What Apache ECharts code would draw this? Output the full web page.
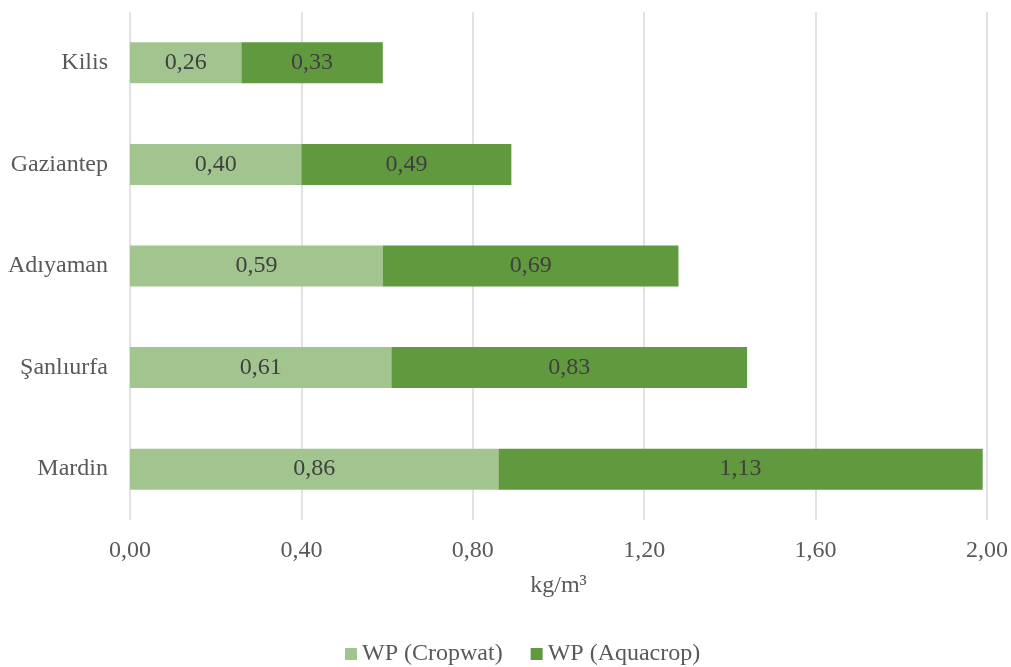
<!DOCTYPE html>
<html><head><meta charset="utf-8">
<script src="https://cdn.jsdelivr.net/npm/echarts@6/dist/echarts.min.js"></script>
<style>html,body{margin:0;padding:0;background:#fff}#c{width:1011px;height:667px}</style>
</head><body><div id="c"></div>
<script>
const categories = ['Mardin', 'Şanlıurfa', 'Adıyaman', 'Gaziantep', 'Kilis'];
const cropwat = [0.86, 0.61, 0.59, 0.40, 0.26];
const aquacrop = [1.13, 0.83, 0.69, 0.49, 0.33];
const seriesNames = ['WP (Cropwat)', 'WP (Aquacrop)'];
const xTicks = { min: 0, max: 2, interval: 0.4 };
const axisName = 'kg/m³';

const font = '"Liberation Serif", "Times New Roman", serif';
const fs = 24;
const fmt = v => v.toFixed(2).replace('.', ',');
const chart = echarts.init(document.getElementById('c'), null, { renderer: 'canvas' });
const lbl = {
  show: true, position: 'inside', color: '#404040', fontFamily: font, fontSize: fs,
  formatter: p => fmt(p.value)
};
chart.setOption({
  animation: false,
  textStyle: { fontFamily: font },
  grid: { left: 130, right: 23, top: 12, bottom: 147 },
  legend: {
    top: 637, left: 340, itemWidth: 12, itemHeight: 12, itemGap: 28,
    icon: 'rect',
    textStyle: { fontFamily: font, fontSize: fs, color: '#595959' },
    data: seriesNames
  },
  xAxis: {
    type: 'value', min: xTicks.min, max: xTicks.max, interval: xTicks.interval,
    name: axisName, nameLocation: 'middle', nameGap: 54,
    nameTextStyle: { fontFamily: font, fontSize: fs, color: '#595959' },
    axisLine: { show: false }, axisTick: { show: false },
    axisLabel: { formatter: fmt, fontFamily: font, fontSize: fs, color: '#595959', margin: 19 },
    splitLine: { lineStyle: { color: '#d9d9d9', width: 1.5 } }
  },
  yAxis: {
    type: 'category', data: categories,
    axisLine: { show: false }, axisTick: { show: false },
    axisLabel: { fontFamily: font, fontSize: fs, color: '#595959', margin: 22 }
  },
  series: [
    { name: seriesNames[0], type: 'bar', stack: 's', data: cropwat, barWidth: 41,
      itemStyle: { color: '#a2c590' }, label: lbl },
    { name: seriesNames[1], type: 'bar', stack: 's', data: aquacrop, barWidth: 41,
      itemStyle: { color: '#60993e' }, label: lbl }
  ]
});
</script></body></html>
